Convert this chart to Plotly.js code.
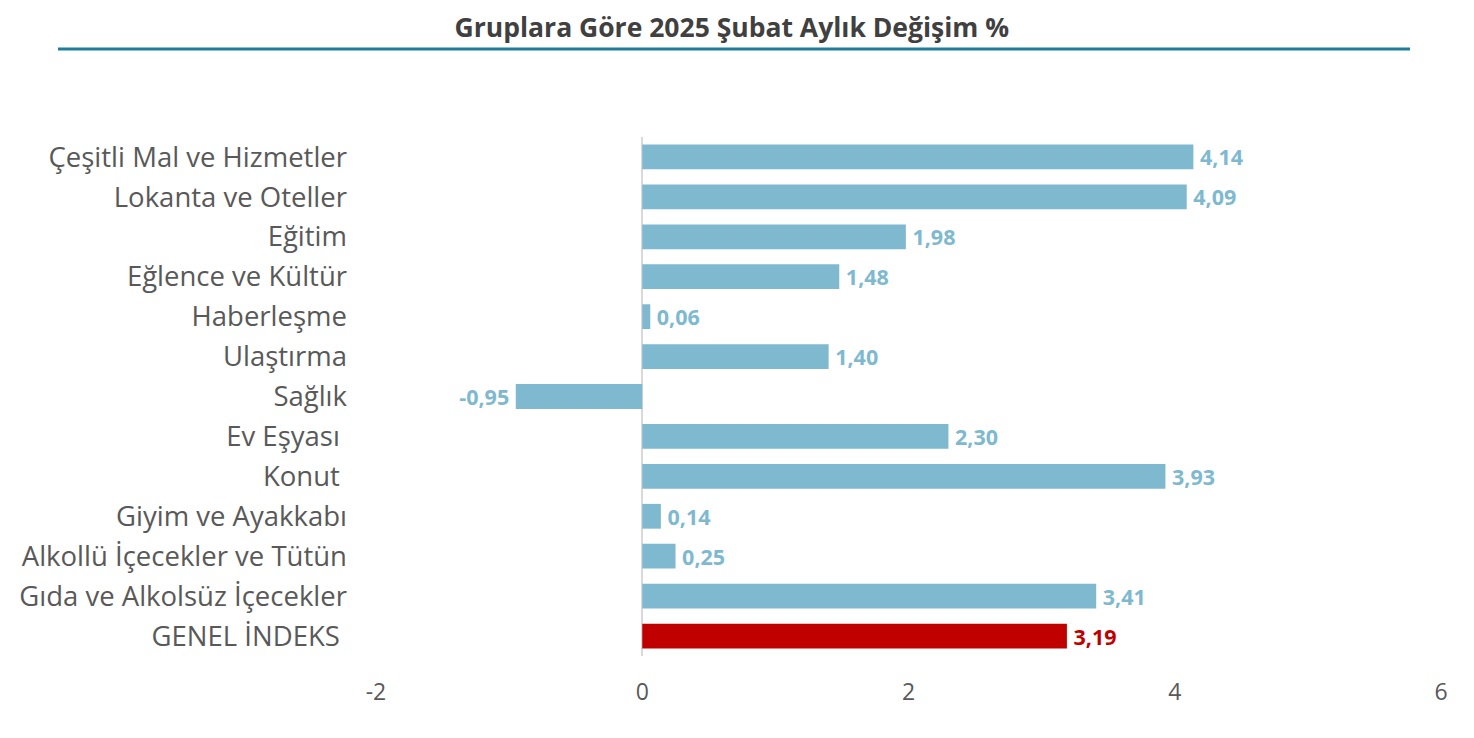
<!DOCTYPE html>
<html><head><meta charset="utf-8">
<script src="https://cdn.plot.ly/plotly-3.0.1.min.js"></script>
<style>html,body{margin:0;padding:0;background:#fff}#chart{width:1474px;height:738px}</style>
</head><body><div id="chart"></div>
<script>
const categories = [
  "Çeşitli Mal ve Hizmetler",
  "Lokanta ve Oteller",
  "Eğitim",
  "Eğlence ve Kültür",
  "Haberleşme",
  "Ulaştırma",
  "Sağlık",
  "Ev Eşyası\u00a0",
  "Konut\u00a0",
  "Giyim ve Ayakkabı",
  "Alkollü İçecekler ve Tütün",
  "Gıda ve Alkolsüz İçecekler",
  "GENEL İNDEKS\u00a0"
];
const values = [4.14, 4.09, 1.98, 1.48, 0.06, 1.40, -0.95, 2.30, 3.93, 0.14, 0.25, 3.41, 3.19];
const highlight = "GENEL İNDEKS\u00a0";
const tickValues = [-2, 0, 2, 4, 6];
const tickLabels = ["-2", "0", "2", "4", "6"];

const barBlue = "#7EB9CF", barRed = "#C00000";
const colors = categories.map(c => c === highlight ? barRed : barBlue);
const texts = values.map(v => {
  const s = v.toFixed(2).replace('.', ',');
  return v < 0 ? s + '\u2009' : '\u2009' + s;
});

const trace = {
  type: 'bar', orientation: 'h',
  x: values, y: categories,
  marker: {color: colors},
  text: texts, textposition: 'outside', cliponaxis: false, constraintext: 'none',
  textfont: {family: 'Open Sans', size: 21.5, color: colors, weight: 700},
  hoverinfo: 'none'
};

const layout = {
  width: 1474, height: 738,
  margin: {l: 376, r: 33, t: 137, b: 82},
  paper_bgcolor: '#fff', plot_bgcolor: '#fff',
  showlegend: false,
  bargap: 0.38,
  font: {family: 'Open Sans', color: '#595959'},
  title: {text: '<b>Gruplara Göre 2025 Şubat Aylık Değişim %</b>', x: 0.4965, xanchor: 'center', y: 0.962, yanchor: 'middle',
          font: {family: 'Open Sans', size: 26.5, color: '#404040'}},
  xaxis: {range: [-2, 6], tickvals: tickValues, ticktext: tickLabels, showgrid: false,
          zeroline: true, zerolinecolor: '#D9D9D9', zerolinewidth: 2, showline: false,
          ticks: '', ticklabelstandoff: 20, tickfont: {family: 'Open Sans', size: 23, color: '#595959'}, fixedrange: true},
  yaxis: {type: 'category', autorange: 'reversed', showgrid: false, showline: false, ticks: '',
          ticklabelstandoff: 28, tickfont: {family: 'Open Sans', size: 27.5, color: '#595959'}, fixedrange: true},
  shapes: [{type: 'line', xref: 'paper', yref: 'paper',
            x0: (58 - 376) / 1065, x1: (1410 - 376) / 1065,
            y0: (656 - 49) / 519, y1: (656 - 49) / 519,
            line: {color: '#1F7C9C', width: 3}}]
};

Plotly.newPlot('chart', [trace], layout, {displayModeBar: false, staticPlot: true});
</script></body></html>
